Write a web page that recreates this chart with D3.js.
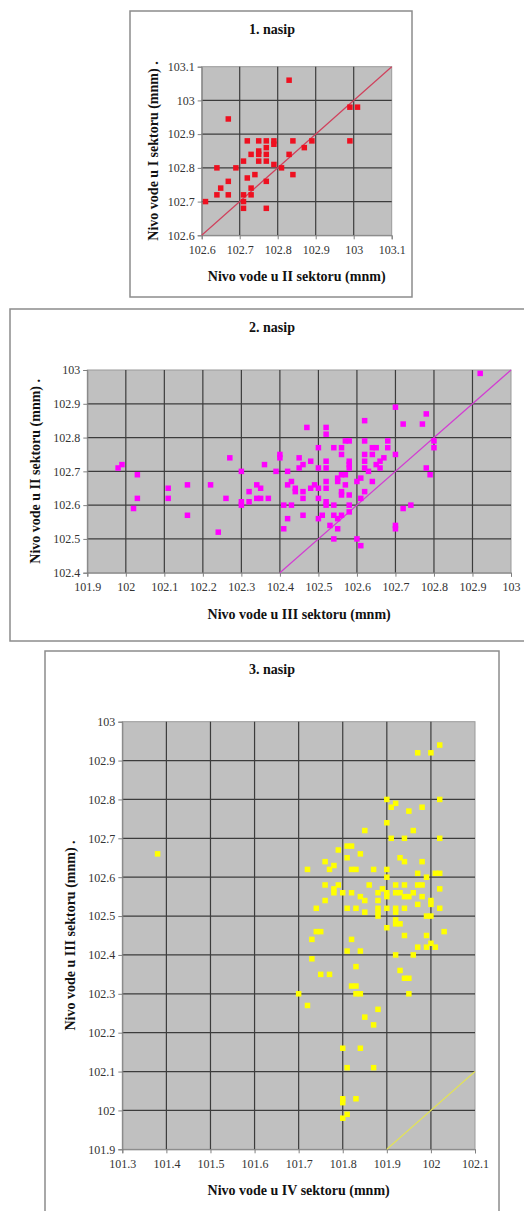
<!DOCTYPE html>
<html>
<head>
<meta charset="utf-8">
<script src="https://cdn.jsdelivr.net/npm/d3@7"></script>
<style>
  body { margin: 0; background: #fff; }
  svg { display: block; font-family: 'Liberation Serif', 'Times New Roman', serif; }
  svg text { font-family: 'Liberation Serif', 'Times New Roman', serif !important; }
</style>
</head>
<body>
<div id="chart"></div>
<script>
// 1. nasip: [II sektor, I sektor]
const nasip1 = [
  [102.61,102.70],[102.64,102.80],[102.64,102.72],[102.65,102.74],[102.67,102.945],[102.67,102.76],
  [102.67,102.72],[102.69,102.80],[102.71,102.82],[102.71,102.72],[102.71,102.70],[102.71,102.68],
  [102.72,102.88],[102.72,102.77],[102.73,102.84],[102.73,102.74],[102.73,102.72],[102.74,102.78],
  [102.75,102.88],[102.75,102.85],[102.75,102.84],[102.75,102.82],[102.77,102.88],[102.77,102.86],
  [102.77,102.84],[102.77,102.82],[102.77,102.76],[102.77,102.68],[102.79,102.88],[102.79,102.87],
  [102.79,102.81],[102.81,102.80],[102.83,103.06],[102.83,102.84],[102.84,102.88],[102.84,102.78],
  [102.87,102.86],[102.89,102.88],[102.99,102.98],[103.01,102.98],[102.99,102.88]
];

// 2. nasip: [III sektor, II sektor]
const nasip2 = [
  [101.98,102.71],[101.99,102.72],[102.03,102.69],[102.03,102.62],[102.02,102.59],[102.11,102.65],
  [102.11,102.62],[102.16,102.66],[102.16,102.57],[102.22,102.66],[102.24,102.52],[102.26,102.62],
  [102.27,102.74],[102.30,102.70],[102.30,102.61],[102.30,102.60],[102.32,102.64],[102.32,102.61],
  [102.34,102.66],[102.34,102.62],[102.35,102.65],[102.35,102.62],[102.36,102.72],[102.37,102.62],
  [102.39,102.70],[102.40,102.75],[102.40,102.74],[102.41,102.53],[102.41,102.60],[102.42,102.70],
  [102.42,102.66],[102.42,102.56],[102.43,102.67],[102.43,102.60],[102.44,102.65],[102.44,102.64],
  [102.45,102.71],[102.45,102.74],[102.46,102.72],[102.46,102.64],[102.46,102.62],[102.46,102.57],
  [102.47,102.83],[102.48,102.73],[102.48,102.65],[102.49,102.66],[102.50,102.77],[102.50,102.71],
  [102.50,102.65],[102.50,102.62],[102.50,102.56],[102.51,102.57],[102.52,102.83],[102.52,102.81],
  [102.52,102.73],[102.52,102.71],[102.52,102.67],[102.52,102.65],[102.52,102.61],[102.52,102.60],
  [102.53,102.54],[102.54,102.77],[102.54,102.60],[102.54,102.57],[102.54,102.50],[102.55,102.68],
  [102.55,102.67],[102.55,102.56],[102.55,102.53],[102.56,102.77],[102.56,102.75],[102.56,102.69],
  [102.56,102.64],[102.56,102.63],[102.56,102.57],[102.57,102.79],[102.57,102.69],[102.57,102.66],
  [102.58,102.79],[102.58,102.73],[102.58,102.72],[102.58,102.71],[102.58,102.63],[102.58,102.60],
  [102.58,102.58],[102.60,102.67],[102.60,102.50],[102.61,102.68],[102.61,102.62],[102.61,102.48],
  [102.62,102.85],[102.62,102.79],[102.62,102.75],[102.62,102.73],[102.62,102.71],[102.62,102.64],
  [102.63,102.70],[102.64,102.77],[102.64,102.75],[102.64,102.67],[102.65,102.77],[102.65,102.72],
  [102.66,102.71],[102.66,102.73],[102.67,102.74],[102.68,102.79],[102.68,102.77],[102.70,102.89],
  [102.70,102.75],[102.70,102.54],[102.70,102.53],[102.72,102.59],[102.72,102.84],[102.74,102.60],
  [102.77,102.84],[102.78,102.87],[102.78,102.71],[102.79,102.69],[102.80,102.79],[102.80,102.77],
  [102.92,102.99]
];

// 3. nasip: [IV sektor, III sektor]
const nasip3 = [
  [101.38,102.66],
  [102.02,102.94],[101.97,102.92],[102.00,102.92],[101.90,102.80],[101.91,102.78],[101.92,102.79],
  [102.02,102.80],[101.95,102.77],[101.98,102.78],[101.90,102.74],[101.85,102.72],[101.96,102.72],
  [101.91,102.70],[101.94,102.70],[102.02,102.70],[101.79,102.67],[101.81,102.68],[101.82,102.68],
  [101.81,102.65],[101.84,102.66],[101.93,102.65],[101.94,102.64],[101.98,102.64],[101.76,102.64],
  [101.78,102.63],[101.77,102.62],[101.72,102.62],[101.82,102.62],[101.83,102.62],[101.87,102.62],
  [101.90,102.62],[101.90,102.60],[101.97,102.61],[101.99,102.60],[102.01,102.61],[102.02,102.61],
  [101.76,102.58],[101.79,102.58],[101.86,102.58],[101.92,102.58],[101.94,102.58],[101.97,102.58],
  [101.98,102.58],[101.78,102.57],[101.78,102.56],[101.80,102.56],[101.82,102.56],[101.84,102.55],
  [101.88,102.56],[101.89,102.57],[101.90,102.56],[101.90,102.55],[101.92,102.56],[101.93,102.56],
  [101.94,102.55],[101.95,102.55],[101.96,102.56],[101.98,102.55],[102.02,102.57],[101.76,102.54],
  [101.85,102.54],[101.88,102.54],[102.00,102.54],[101.97,102.53],[102.00,102.53],[101.74,102.52],
  [101.81,102.52],[101.83,102.52],[101.88,102.52],[101.90,102.52],[101.92,102.52],[101.94,102.52],
  [102.02,102.52],[101.85,102.51],[101.88,102.51],[101.88,102.50],[101.92,102.51],[101.99,102.50],
  [102.00,102.50],[101.92,102.49],[101.92,102.48],[101.93,102.48],[101.90,102.47],[101.75,102.46],
  [101.74,102.46],[101.73,102.44],[102.03,102.46],[101.82,102.44],[101.94,102.45],[101.99,102.45],
  [102.00,102.43],[101.99,102.42],[102.01,102.42],[101.97,102.42],[101.81,102.41],[101.84,102.41],
  [101.73,102.39],[101.92,102.40],[101.96,102.40],[101.93,102.36],[101.94,102.34],[101.95,102.34],
  [101.95,102.30],[101.83,102.37],[101.75,102.35],[101.77,102.35],[101.70,102.30],[101.72,102.27],
  [101.82,102.32],[101.83,102.32],[101.83,102.30],[101.84,102.30],[101.88,102.26],[101.85,102.24],
  [101.87,102.22],[101.80,102.16],[101.84,102.16],[101.81,102.11],[101.87,102.11],[101.80,102.03],
  [101.80,102.02],[101.83,102.03],[101.81,101.99],[101.80,101.98]
];

const ticks1X = [102.6, 102.7, 102.8, 102.9, 103, 103.1];
const ticks1Y = [102.6, 102.7, 102.8, 102.9, 103, 103.1];
const ticks2X = [101.9, 102, 102.1, 102.2, 102.3, 102.4, 102.5, 102.6, 102.7, 102.8, 102.9, 103];
const ticks2Y = [102.4, 102.5, 102.6, 102.7, 102.8, 102.9, 103];
const ticks3X = [101.3, 101.4, 101.5, 101.6, 101.7, 101.8, 101.9, 102, 102.1];
const ticks3Y = [101.9, 102, 102.1, 102.2, 102.3, 102.4, 102.5, 102.6, 102.7, 102.8, 102.9, 103];

const titles = ['1. nasip', '2. nasip', '3. nasip'];
const xTitles = ['Nivo vode u II sektoru (mnm)', 'Nivo vode u III sektoru (mnm)', 'Nivo vode u IV sektoru (mnm)'];
const yTitles = ['Nivo vode u I sektoru (mnm) .', 'Nivo vode u II sektoru (mnm) .', 'Nivo vode u III sektoru (mnm) .'];

const W = 524, H = 1211;
const svg = d3.select('#chart').append('svg')
  .attr('width', W)
  .attr('height', H)
  .attr('viewBox', [0, 0, W, H]);

// layout for each panel
const panels = [
  { frame: [130, 11, 412, 297], plot: [201.7, 66.7, 391.7, 235.3], data: nasip1, xTicks: ticks1X, yTicks: ticks1Y,
    dot: '#ee1020', line: '#d0405c', yTitleX: 153 },
  { frame: [10, 309, 540, 641], plot: [87.3, 370, 511, 572.7], data: nasip2, xTicks: ticks2X, yTicks: ticks2Y,
    dot: '#ff00ff', line: '#d23cd2', yTitleX: 35 },
  { frame: [45, 651, 499, 1225], plot: [122.3, 721.7, 475, 1149.3], data: nasip3, xTicks: ticks3X, yTicks: ticks3Y,
    dot: '#ffff00', line: '#e2e258', yTitleX: 70 }
];

const fmt = d => String(+d.toFixed(1));

panels.forEach((p, i) => {
  const [fx0, fy0, fx1, fy1] = p.frame;
  const [px0, py0, px1, py1] = p.plot;
  const g = svg.append('g');

  // frame
  g.append('rect')
    .attr('x', fx0).attr('y', fy0)
    .attr('width', fx1 - fx0).attr('height', fy1 - fy0)
    .attr('fill', '#fff')
    .attr('stroke', '#8c8c8c')
    .attr('stroke-width', 1.5);

  const x = d3.scaleLinear().domain(d3.extent(p.xTicks)).range([px0, px1]);
  const y = d3.scaleLinear().domain(d3.extent(p.yTicks)).range([py1, py0]);

  // plot area
  g.append('rect')
    .attr('x', px0).attr('y', py0)
    .attr('width', px1 - px0).attr('height', py1 - py0)
    .attr('fill', '#c0c0c0')
    .attr('stroke', '#9a9a9a')
    .attr('stroke-width', 1);

  // gridlines
  const grid = g.append('g').attr('stroke', '#3c3c3c').attr('stroke-width', 1.2);
  grid.selectAll('.gx').data(p.xTicks.slice(1, -1)).join('line')
    .attr('x1', d => x(d)).attr('x2', d => x(d))
    .attr('y1', py0).attr('y2', py1);
  grid.selectAll('.gy').data(p.yTicks.slice(1, -1)).join('line')
    .attr('y1', d => y(d)).attr('y2', d => y(d))
    .attr('x1', px0).attr('x2', px1);

  // axes
  const xAxis = g.append('g')
    .attr('transform', `translate(0,${py1})`)
    .call(d3.axisBottom(x).tickValues(p.xTicks).tickSize(4).tickPadding(6).tickFormat(fmt));
  const yAxis = g.append('g')
    .attr('transform', `translate(${px0},0)`)
    .call(d3.axisLeft(y).tickValues(p.yTicks).tickSize(4).tickPadding(3).tickFormat(fmt));
  [xAxis, yAxis].forEach(a => {
    a.attr('font-family', null).attr('font-size', null);
    a.select('.domain').attr('stroke', '#808080');
    a.selectAll('.tick line').attr('stroke', '#808080');
    a.selectAll('.tick text')
      .attr('fill', '#333')
      .style('font-size', '12px');
  });

  // y = x reference line
  const lo = Math.max(x.domain()[0], y.domain()[0]);
  const hi = Math.min(x.domain()[1], y.domain()[1]);
  g.append('line')
    .attr('x1', x(lo)).attr('y1', y(lo))
    .attr('x2', x(hi)).attr('y2', y(hi))
    .attr('stroke', p.line)
    .attr('stroke-width', 1.2);

  // points
  const s = 5.5;
  g.append('g').selectAll('rect')
    .data(p.data)
    .join('rect')
    .attr('x', d => x(d[0]) - s / 2)
    .attr('y', d => y(d[1]) - s / 2)
    .attr('width', s).attr('height', s)
    .attr('fill', p.dot);

  // titles
  g.append('text')
    .text(titles[i])
    .attr('x', 272)
    .attr('y', fy0 + 23)
    .attr('text-anchor', 'middle')
    .style('font-size', '14px')
    .style('font-weight', 'bold')
    .attr('fill', '#111');

  g.append('text')
    .text(xTitles[i])
    .attr('x', (px0 + px1) / 2)
    .attr('y', py1 + 46)
    .attr('text-anchor', 'middle')
    .style('font-size', '14px')
    .style('font-weight', 'bold')
    .attr('fill', '#111');

  g.append('text')
    .text(yTitles[i])
    .attr('transform', `translate(${p.yTitleX + 5},${(py0 + py1) / 2}) rotate(-90)`)
    .attr('text-anchor', 'middle')
    .style('font-size', '14px')
    .style('font-weight', 'bold')
    .attr('fill', '#111');
});
</script>
</body>
</html>
